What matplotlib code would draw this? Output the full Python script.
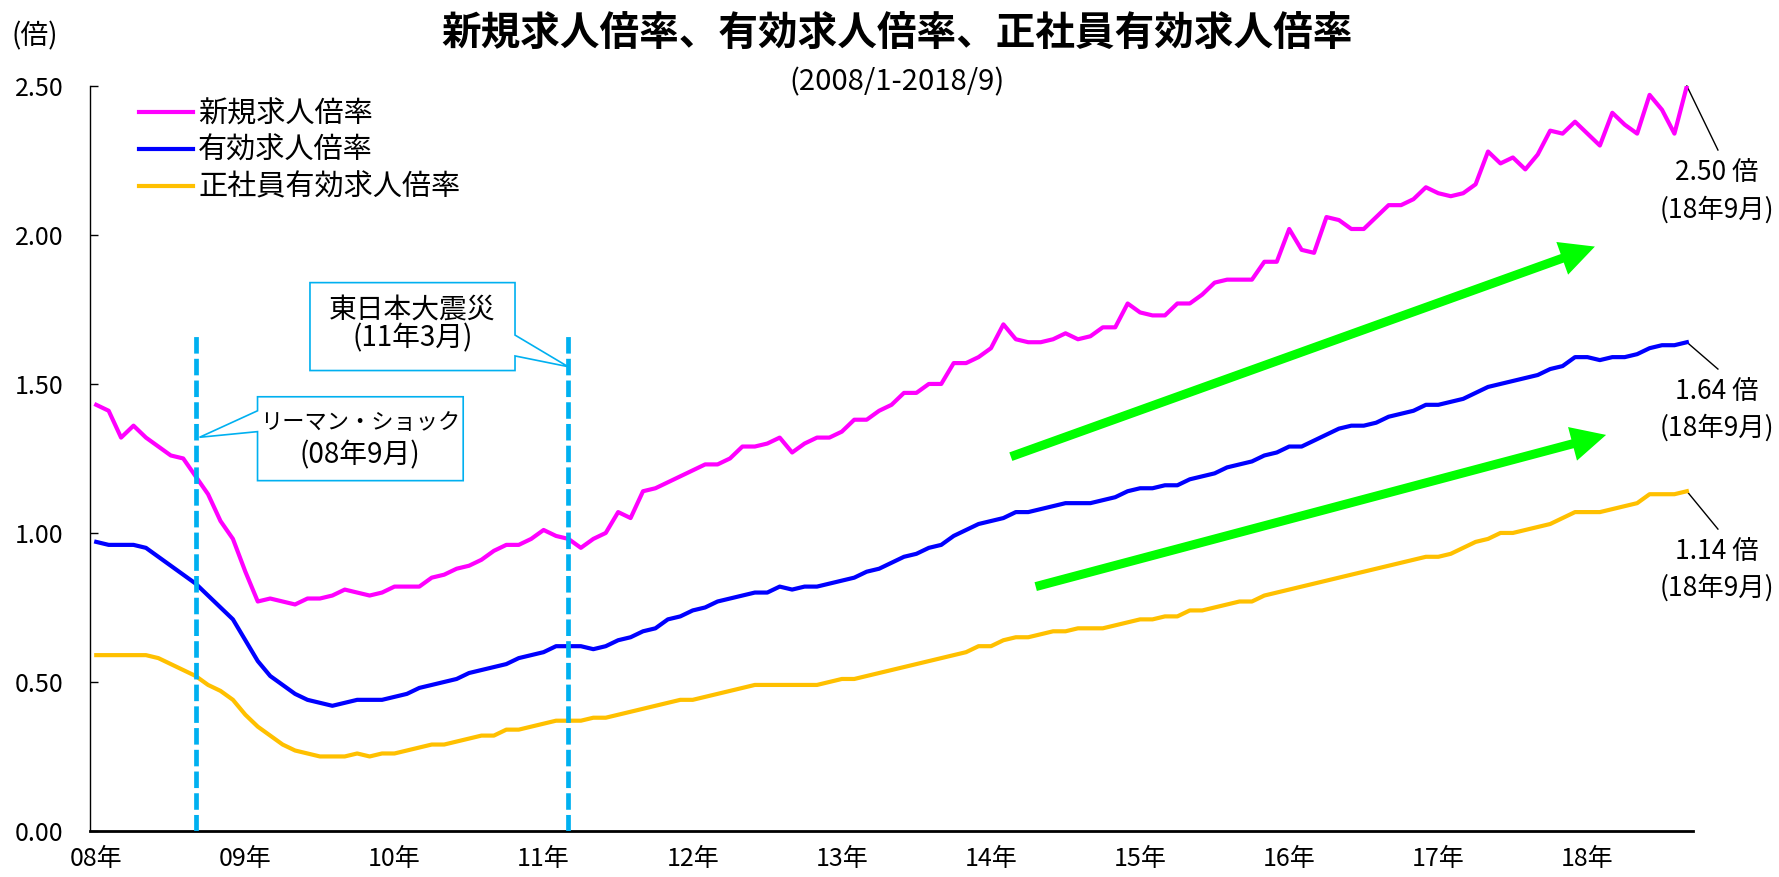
import matplotlib
matplotlib.use("Agg")
import matplotlib.pyplot as plt
from matplotlib.patches import Polygon, FancyArrowPatch

plt.rcParams["font.family"] = ["Noto Sans CJK JP", "DejaVu Sans"]

# monthly values, 2008/1 - 2018/9
new_ratio = [
    1.43, 1.41, 1.32, 1.36, 1.32, 1.29, 1.26, 1.25, 1.19, 1.13, 1.04, 0.98,
    0.87, 0.77, 0.78, 0.77, 0.76, 0.78, 0.78, 0.79, 0.81, 0.80, 0.79, 0.80,
    0.82, 0.82, 0.82, 0.85, 0.86, 0.88, 0.89, 0.91, 0.94, 0.96, 0.96, 0.98,
    1.01, 0.99, 0.98, 0.95, 0.98, 1.00, 1.07, 1.05, 1.14, 1.15, 1.17, 1.19,
    1.21, 1.23, 1.23, 1.25, 1.29, 1.29, 1.30, 1.32, 1.27, 1.30, 1.32, 1.32,
    1.34, 1.38, 1.38, 1.41, 1.43, 1.47, 1.47, 1.50, 1.50, 1.57, 1.57, 1.59,
    1.62, 1.70, 1.65, 1.64, 1.64, 1.65, 1.67, 1.65, 1.66, 1.69, 1.69, 1.77,
    1.74, 1.73, 1.73, 1.77, 1.77, 1.80, 1.84, 1.85, 1.85, 1.85, 1.91, 1.91,
    2.02, 1.95, 1.94, 2.06, 2.05, 2.02, 2.02, 2.06, 2.10, 2.10, 2.12, 2.16,
    2.14, 2.13, 2.14, 2.17, 2.28, 2.24, 2.26, 2.22, 2.27, 2.35, 2.34, 2.38,
    2.34, 2.30, 2.41, 2.37, 2.34, 2.47, 2.42, 2.34, 2.50,
]
eff_ratio = [
    0.97, 0.96, 0.96, 0.96, 0.95, 0.92, 0.89, 0.86, 0.83, 0.79, 0.75, 0.71,
    0.64, 0.57, 0.52, 0.49, 0.46, 0.44, 0.43, 0.42, 0.43, 0.44, 0.44, 0.44,
    0.45, 0.46, 0.48, 0.49, 0.50, 0.51, 0.53, 0.54, 0.55, 0.56, 0.58, 0.59,
    0.60, 0.62, 0.62, 0.62, 0.61, 0.62, 0.64, 0.65, 0.67, 0.68, 0.71, 0.72,
    0.74, 0.75, 0.77, 0.78, 0.79, 0.80, 0.80, 0.82, 0.81, 0.82, 0.82, 0.83,
    0.84, 0.85, 0.87, 0.88, 0.90, 0.92, 0.93, 0.95, 0.96, 0.99, 1.01, 1.03,
    1.04, 1.05, 1.07, 1.07, 1.08, 1.09, 1.10, 1.10, 1.10, 1.11, 1.12, 1.14,
    1.15, 1.15, 1.16, 1.16, 1.18, 1.19, 1.20, 1.22, 1.23, 1.24, 1.26, 1.27,
    1.29, 1.29, 1.31, 1.33, 1.35, 1.36, 1.36, 1.37, 1.39, 1.40, 1.41, 1.43,
    1.43, 1.44, 1.45, 1.47, 1.49, 1.50, 1.51, 1.52, 1.53, 1.55, 1.56, 1.59,
    1.59, 1.58, 1.59, 1.59, 1.60, 1.62, 1.63, 1.63, 1.64,
]
regular_ratio = [
    0.59, 0.59, 0.59, 0.59, 0.59, 0.58, 0.56, 0.54, 0.52, 0.49, 0.47, 0.44,
    0.39, 0.35, 0.32, 0.29, 0.27, 0.26, 0.25, 0.25, 0.25, 0.26, 0.25, 0.26,
    0.26, 0.27, 0.28, 0.29, 0.29, 0.30, 0.31, 0.32, 0.32, 0.34, 0.34, 0.35,
    0.36, 0.37, 0.37, 0.37, 0.38, 0.38, 0.39, 0.40, 0.41, 0.42, 0.43, 0.44,
    0.44, 0.45, 0.46, 0.47, 0.48, 0.49, 0.49, 0.49, 0.49, 0.49, 0.49, 0.50,
    0.51, 0.51, 0.52, 0.53, 0.54, 0.55, 0.56, 0.57, 0.58, 0.59, 0.60, 0.62,
    0.62, 0.64, 0.65, 0.65, 0.66, 0.67, 0.67, 0.68, 0.68, 0.68, 0.69, 0.70,
    0.71, 0.71, 0.72, 0.72, 0.74, 0.74, 0.75, 0.76, 0.77, 0.77, 0.79, 0.80,
    0.81, 0.82, 0.83, 0.84, 0.85, 0.86, 0.87, 0.88, 0.89, 0.90, 0.91, 0.92,
    0.92, 0.93, 0.95, 0.97, 0.98, 1.00, 1.00, 1.01, 1.02, 1.03, 1.05, 1.07,
    1.07, 1.07, 1.08, 1.09, 1.10, 1.13, 1.13, 1.13, 1.14,
]

series_names = ["新規求人倍率", "有効求人倍率", "正社員有効求人倍率"]
series_colors = ["#FF00FF", "#0000FF", "#FFC000"]
year_labels = ["08年", "09年", "10年", "11年", "12年", "13年",
               "14年", "15年", "16年", "17年", "18年"]
y_ticks = [0.0, 0.5, 1.0, 1.5, 2.0, 2.5]

# event month index (from 2008/1)
lehman_month = 8
quake_month = 38

months = list(range(len(new_ratio)))

fig = plt.figure(figsize=(17.79, 8.77), dpi=100)
ax = fig.add_axes([0.0506, 0.0525, 0.9011, 0.8495])

for vals, name, col in zip([new_ratio, eff_ratio, regular_ratio], series_names, series_colors):
    ax.plot(months, vals, color=col, lw=3, label=name, zorder=3)

ax.set_xlim(-0.5, len(months) - 0.5)
ax.set_ylim(0, 2.5)
ax.set_xticks(range(0, len(months), 12))
ax.set_xticklabels(year_labels, fontsize=18)
ax.set_yticks(y_ticks)
ax.set_yticklabels(["%.2f" % v for v in y_ticks], fontsize=18)
ax.tick_params(axis="y", direction="in", length=6, width=1, pad=19)
ax.tick_params(axis="x", length=0, pad=11)
ax.spines["top"].set_visible(False)
ax.spines["right"].set_visible(False)
ax.spines["left"].set_linewidth(1)
ax.spines["bottom"].set_linewidth(2)

# event lines
for m in [lehman_month, quake_month]:
    ax.plot([m, m], [0, 1.66], color="#00B0F0", lw=3.4, dashes=(3.5, 1.1), zorder=4)

# callouts
blue = "#00B0F0"
lehman_box = [(12.98, 1.457), (29.53, 1.457), (29.53, 1.1755), (12.98, 1.1755),
              (12.98, 1.340), (8.31, 1.321), (12.98, 1.410)]
ax.add_patch(Polygon(lehman_box, closed=True, facecolor="white", edgecolor=blue,
                     lw=1.2, zorder=5))
ax.text(21.25, 1.37, "リーマン・ショック", fontsize=16, ha="center", va="center", zorder=6)
ax.text(21.25, 1.26, "(08年9月)", fontsize=20, ha="center", va="center", zorder=6)

quake_box = [(17.2, 1.840), (33.7, 1.840), (33.7, 1.664), (37.97, 1.558),
             (33.7, 1.594), (33.7, 1.545), (17.2, 1.545)]
ax.add_patch(Polygon(quake_box, closed=True, facecolor="white", edgecolor=blue,
                     lw=1.2, zorder=5))
ax.text(25.45, 1.751, "東日本大震災", fontsize=20, ha="center", va="center", zorder=6)
ax.text(25.45, 1.654, "(11年3月)", fontsize=20, ha="center", va="center", zorder=6)

# green trend arrows
for tail, tip in [((73.6, 1.256), (120.6, 1.961)), ((75.6, 0.820), (121.5, 1.329))]:
    ax.add_patch(FancyArrowPatch(
        tail, tip,
        arrowstyle="simple,head_length=2.5,head_width=2.5,tail_width=0.65",
        mutation_scale=10, color="#00FF00", lw=0, shrinkA=0, shrinkB=0, zorder=2))

# latest-value labels
last = len(months) - 1
for vals, lead_y, txt_y in [(new_ratio, 2.285, 2.208),
                            (eff_ratio, 1.550, 1.474),
                            (regular_ratio, 1.013, 0.937)]:
    ax.plot([last, last + 2.5], [vals[-1], lead_y], color="black", lw=1, clip_on=False)
    ax.text(last + 2.4, txt_y, "%.2f 倍" % vals[-1], fontsize=19, ha="center", va="center")
    ax.text(last + 2.4, txt_y - 0.123, "(18年9月)", fontsize=19, ha="center", va="center")

ax.legend(loc="upper left", bbox_to_anchor=(0.0306, 0.982), frameon=False,
          fontsize=21, handlelength=1.85, handletextpad=0.18, labelspacing=0.23,
          borderpad=0, borderaxespad=0)

fig.text(0.504, 0.961, "新規求人倍率、有効求人倍率、正社員有効求人倍率",
         fontsize=28.5, fontweight="bold", ha="center", va="center")
fig.text(0.504, 0.9065, "(2008/1-2018/9)", fontsize=21, ha="center", va="center")
fig.text(0.0197, 0.958, "(倍)", fontsize=20, ha="center", va="center")

fig.savefig("out.png", dpi=100)
